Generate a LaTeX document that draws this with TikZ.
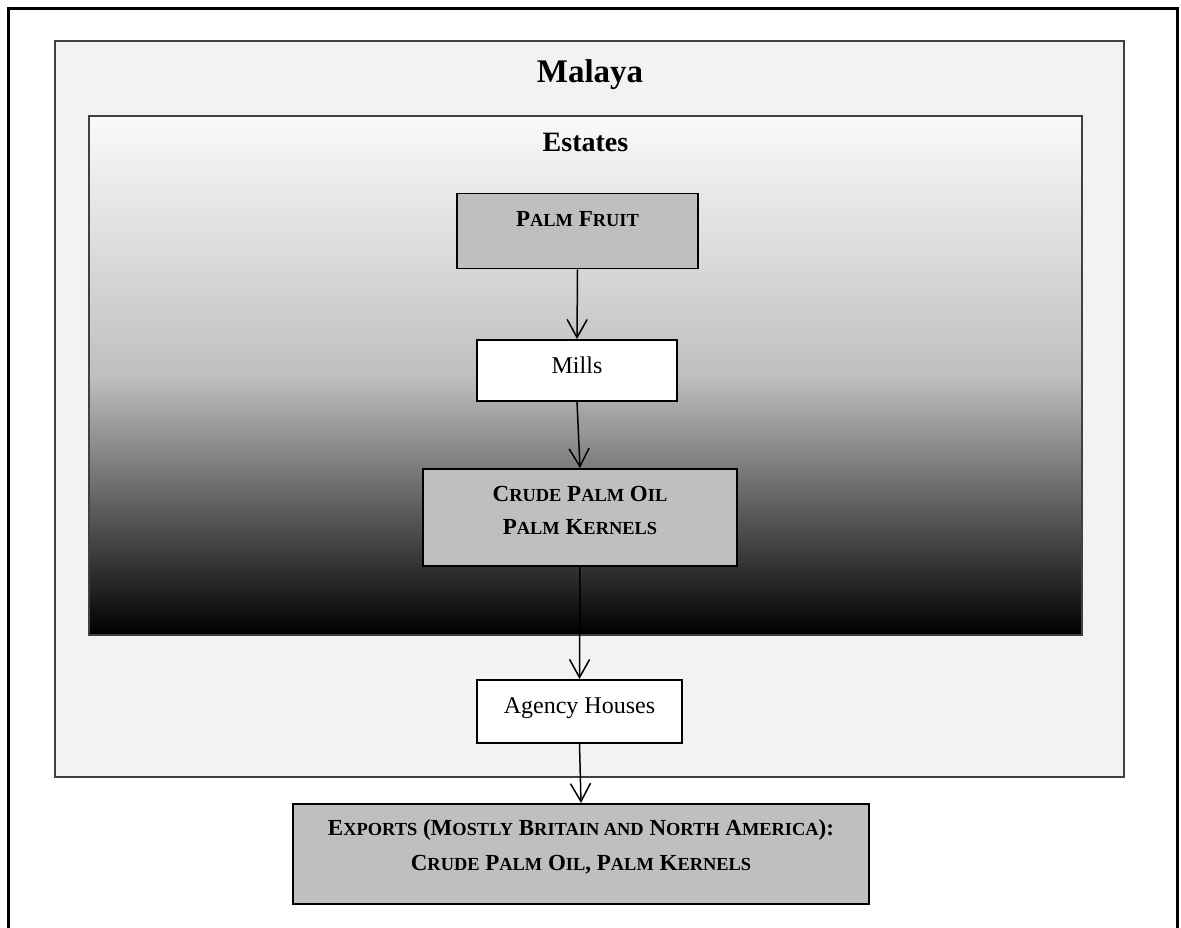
\documentclass[tikz,border=0pt]{standalone}
\usepackage{fontspec}
\setmainfont{Liberation Serif}
\usetikzlibrary{arrows.meta}
\definecolor{malayafill}{HTML}{F2F2F2}
\definecolor{boxgray}{HTML}{BFBFBF}
\definecolor{frameline}{HTML}{404040}
\definecolor{esttop}{gray}{0.98}
\definecolor{estmid}{gray}{0.75}
\newcommand{\scb}[1]{{\fontsize{18.4}{18.4}\selectfont #1}}
\begin{document}
\begin{tikzpicture}[x=1pt,y=-1pt,
  boxbase/.style={draw=black, line width=1.5pt, inner xsep=0pt, inner ysep=0pt, align=center, anchor=north},
  graybox/.style={boxbase, fill=boxgray, font=\fontsize{23}{33}\selectfont\bfseries},
  whitebox/.style={boxbase, fill=white, font=\fontsize{24}{30}\selectfont},
  region/.style={draw=frameline, line width=1.5pt, inner sep=0pt},
  flow/.style={-{Straight Barb[length=18pt,width=20pt,line width=1.5pt]}, line width=1.5pt}
]
\useasboundingbox (0,0) rectangle (1181,928);
% outer frame (open at the bottom)
\draw[line width=3pt] (8,928) -- (8,9) -- (1177,9) -- (1177,928);
% Malaya region
\node[region, fill=malayafill, minimum width=1069pt, minimum height=736pt] (malaya) at (589.5,409) {};
\node[anchor=base, font=\fontsize{33}{36}\selectfont\bfseries] (malayatitle) at (590,83) {Malaya};
% Estates region
\node[region, top color=esttop, bottom color=black, middle color=estmid, minimum width=993pt, minimum height=519pt] (estates) at (585.5,375.5) {};
\node[anchor=base, font=\fontsize{28}{30}\selectfont\bfseries] (estatestitle) at (585.5,152) {Estates};
% flow boxes
\node[graybox, minimum width=241pt, text height=33pt, text depth=42pt] (pf) at (577.5,193) {P\scb{ALM} F\scb{RUIT}};
\node[whitebox, minimum width=200pt, text height=34pt, text depth=27pt] (mills) at (577,339) {Mills};
\node[graybox, minimum width=314pt, text height=66pt, text depth=31pt] (cpo) at (580,468) {C\scb{RUDE} P\scb{ALM} O\scb{IL}\\P\scb{ALM} K\scb{ERNELS}};
\node[whitebox, minimum width=205pt, text height=34pt, text depth=29pt] (agency) at (579.5,679) {Agency Houses};
\node[graybox, minimum width=576pt, text height=67pt, text depth=33pt] (exports) at (581,803) {E\scb{XPORTS} (M\scb{OSTLY} B\scb{RITAIN AND} N\scb{ORTH} A\scb{MERICA}):\\[2pt]C\scb{RUDE} P\scb{ALM} O\scb{IL}, P\scb{ALM} K\scb{ERNELS}};
% connectors
\draw[flow] (pf.south) -- (mills.north);
\draw[flow] (mills.south) -- (cpo.north);
\draw[flow] (cpo.south) -- (agency.north);
\draw[flow] (agency.south) -- (exports.north);
\end{tikzpicture}
\end{document}
